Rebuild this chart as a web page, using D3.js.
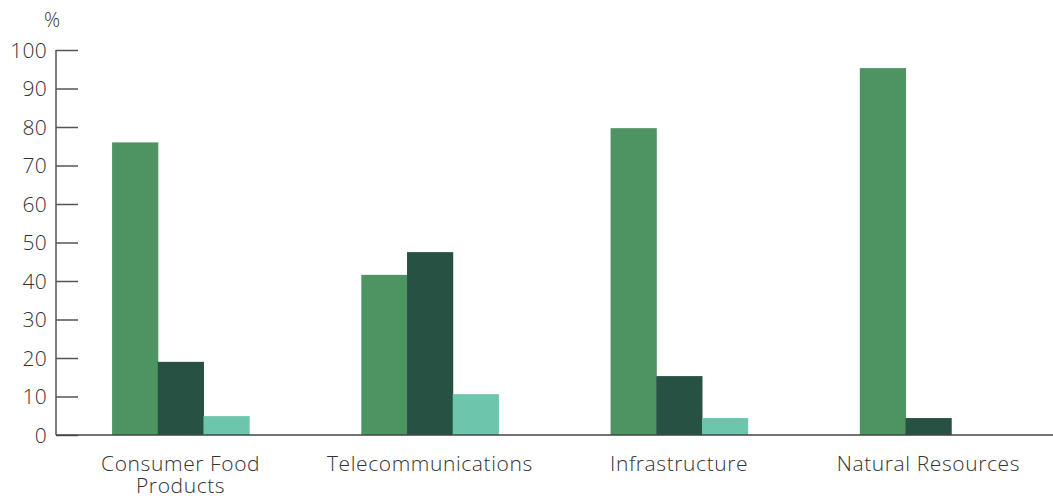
<!DOCTYPE html>
<html>
<head>
<meta charset="utf-8">
<script src="https://cdn.jsdelivr.net/npm/d3@7"></script>
<style>
  body { margin: 0; background: #fff; }
  text { font-family: "Open Sans", Roboto, sans-serif; font-weight: 300; fill: #333; }
</style>
</head>
<body>
<script>
// data
var categories = [["Consumer Food", "Products"], ["Telecommunications"], ["Infrastructure"], ["Natural Resources"]];
var seriesNames = ["s1", "s2", "s3"];
var s1 = [76, 41.6, 79.7, 95.3];
var s2 = [19, 47.5, 15.3, 4.4];
var s3 = [4.9, 10.6, 4.4, 0];
var yTicks = [0, 10, 20, 30, 40, 50, 60, 70, 80, 90, 100];
var colors = ["#4e9463", "#275142", "#6dc6ac"];

var W = 1053, H = 500;
var margin = {top: 50, right: 0, bottom: 65, left: 56};
var width = W - margin.left - margin.right,
    height = H - margin.top - margin.bottom;

var svg = d3.select("body").append("svg")
    .attr("width", W)
    .attr("height", H)
    .append("g")
    .attr("transform", "translate(" + margin.left + "," + margin.top + ")");

var x0 = d3.scaleBand().domain(d3.range(categories.length)).range([0, width])
    .paddingInner(0.45).paddingOuter(0.225);
var x1 = d3.scaleBand().domain(seriesNames).range([0, x0.bandwidth()]);
var y = d3.scaleLinear().domain([0, 100]).range([height, 0]);

var series = [s1, s2, s3];

// bars
series.forEach(function(vals, si) {
    svg.selectAll(".bar" + si)
        .data(vals)
        .enter().append("rect")
        .attr("x", function(d, i) { return x0(i) + x1(seriesNames[si]); })
        .attr("y", function(d) { return y(d); })
        .attr("width", x1.bandwidth() + 0.5)
        .attr("height", function(d) { return height - y(d); })
        .attr("fill", colors[si]);
});

// y axis
var yAxis = svg.append("g")
    .call(d3.axisRight(y).tickValues(yTicks).tickSize(22).tickFormat(d3.format("d")));
yAxis.select(".domain").remove();
yAxis.selectAll(".tick line").attr("stroke", "#555").attr("stroke-width", 1.5);
yAxis.selectAll(".tick text")
    .attr("x", -9)
    .attr("text-anchor", "end")
    .attr("dy", "0.35em")
    .style("font-size", "21px")
    .style("letter-spacing", "0.3px");

svg.append("line")
    .attr("x1", 0).attr("x2", 0)
    .attr("y1", y(100)).attr("y2", height)
    .attr("stroke", "#555").attr("stroke-width", 1.5);

// baseline
svg.append("line")
    .attr("x1", 0).attr("x2", width)
    .attr("y1", height).attr("y2", height)
    .attr("stroke", "#444").attr("stroke-width", 1.5);

// unit
svg.append("text")
    .attr("x", -4)
    .attr("y", -23)
    .attr("text-anchor", "middle")
    .style("font-size", "20px")
    .text("%");

// category labels, one text per line
categories.forEach(function(lines, i) {
    lines.forEach(function(l, j) {
        svg.append("text")
            .attr("x", x0(i) + x0.bandwidth() / 2)
            .attr("y", height + 36 + j * 22)
            .attr("text-anchor", "middle")
            .style("font-size", "21px")
            .style("letter-spacing", "0.6px")
            .text(l);
    });
});
</script>
</body>
</html>
